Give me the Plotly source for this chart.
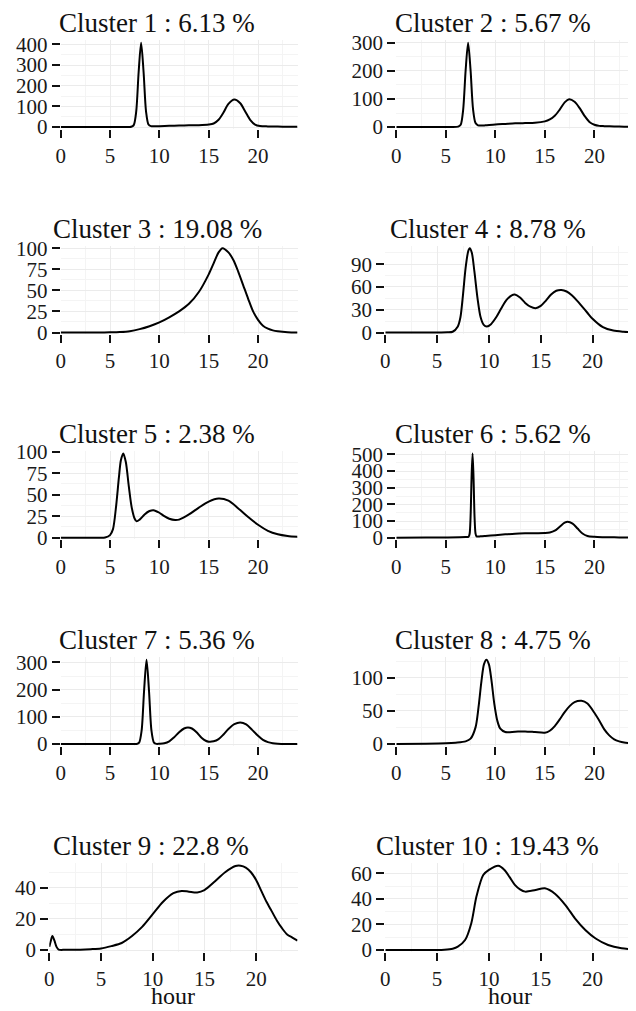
import plotly.graph_objects as go

# ---------------- data ----------------
cluster_ids = [1, 2, 3, 4, 5, 6, 7, 8, 9, 10]
cluster_pct = [6.13, 5.67, 19.08, 8.78, 2.38, 5.62, 5.36, 4.75, 22.8, 19.43]
x_tick_step = 5
y_tick_step = [100, 100, 25, 30, 25, 100, 100, 50, 20, 20]
y_tick_top = [400, 300, 100, 90, 100, 500, 300, 100, 40, 60]
x_label = "hour"

hours_1 = [0, 2, 4, 6, 6.8, 7.15, 7.4, 7.65, 7.9, 8.15, 8.4, 8.65, 8.9, 9.15, 9.5, 10, 11, 12, 13, 14,
           15, 15.5, 16, 16.5, 17, 17.6, 18.2, 18.7, 19.2, 19.7, 20.2, 21, 22, 23, 24]
dens_1 = [0, 0, 0, 0.1, 0.3, 1, 9, 73, 266, 408, 266, 75, 12, 4, 3.5, 4, 5.5, 7, 8, 9,
          12, 17, 35, 70, 112, 133, 115, 75, 35, 12, 5, 3, 2, 1, 1]

hours_2 = [0, 2, 4, 5.5, 6.25, 6.5, 6.75, 7.0, 7.25, 7.5, 7.75, 8.0, 8.25, 8.6, 9, 10, 11, 12, 13, 14,
           15, 15.5, 16, 16.5, 17, 17.45, 18, 18.5, 19, 19.5, 20, 20.5, 21, 22, 23, 24]
dens_2 = [0, 0, 0, 0.2, 1.5, 8, 61, 202, 301, 202, 63, 14, 6, 5, 6, 9, 11, 13, 14, 15,
          20, 27, 40, 62, 88, 99, 90, 68, 40, 18, 8, 4, 3, 2, 1, 0.5]

hours_3 = [0, 2, 4, 5, 6, 7, 8, 9, 10, 11, 12, 13, 14, 15, 15.5, 16, 16.4, 17, 17.5, 18,
           18.5, 19, 19.5, 20, 20.5, 21, 21.5, 22, 23, 24]
dens_3 = [0, 0, 0, 0.2, 0.6, 1.6, 4, 7.5, 12, 18, 25, 34, 48, 69, 82, 95, 100, 95, 86, 72,
          56, 40, 25, 15, 8, 4.5, 2.5, 1.5, 0.4, 0.1]

hours_4 = [0, 3, 5, 6, 6.5, 7, 7.25, 7.5, 7.75, 8.0, 8.15, 8.35, 8.6, 8.9, 9.2, 9.5, 9.8, 10.2, 10.7, 11.2,
           11.7, 12.2, 12.5, 13, 13.5, 14, 14.5, 15, 15.5, 16, 16.5, 17, 17.5, 18, 18.5, 19, 19.5, 20, 21, 22,
           23, 24]
dens_4 = [0, 0, 0, 0.3, 1, 8, 20, 50, 85, 107, 111, 105, 80, 45, 20, 10, 8, 11, 20, 32,
          43, 49, 50, 46, 39, 34, 32, 35, 42, 50, 55, 56, 54, 49, 42, 34, 26, 18, 7, 2.5,
          1, 0.3]

hours_5 = [0, 3, 4, 4.5, 5, 5.3, 5.6, 5.9, 6.1, 6.34, 6.6, 6.9, 7.2, 7.5, 7.7, 8, 8.5, 9, 9.4, 10,
           10.5, 11, 11.6, 12, 13, 14, 15, 16, 17, 18, 19, 20, 21, 22, 23, 24]
dens_5 = [0, 0, 0, 0.3, 3, 10, 35, 70, 90, 98, 88, 60, 35, 22, 19, 21, 27, 31, 32, 29,
          25, 22, 20.5, 21, 27, 35, 42, 45.5, 43, 34, 24, 15, 8, 4, 2, 1]

hours_6 = [0, 3, 5, 7, 7.3, 7.4, 7.5, 7.6, 7.7, 7.8, 7.9, 8.0, 8.1, 8.5, 9, 10, 11, 12, 13, 14,
           15, 15.5, 16, 16.5, 17, 17.3, 17.8, 18.3, 18.8, 19.3, 20, 21, 22, 23, 24]
dens_6 = [0, 0.5, 1.5, 4, 6, 22, 126, 358, 506, 358, 126, 25, 8, 8, 10, 15, 20, 24, 26, 27,
          28, 31, 42, 66, 90, 96, 85, 55, 25, 10, 5, 3, 2, 1, 1]

hours_7 = [0, 4, 7, 7.7, 7.95, 8.2, 8.45, 8.7, 8.95, 9.2, 9.45, 9.7, 10, 10.5, 11, 11.5, 12, 12.5, 12.9, 13.3,
           13.8, 14.3, 14.7, 15, 15.5, 16, 16.5, 17, 17.6, 18.2, 18.8, 19.4, 20, 20.5, 21, 21.5, 22, 23, 24]
dens_7 = [0, 0, 0, 0.2, 5, 49, 195, 310, 195, 49, 5, 0.5, 1, 3, 10, 25, 43, 57, 61, 57,
          42, 22, 12, 8.6, 10, 18, 35, 55, 73, 79, 72, 52, 30, 15, 7, 3, 1.2, 0.3, 0]

hours_8 = [0, 3, 5, 6, 7, 7.5, 8, 8.3, 8.6, 8.85, 9.1, 9.35, 9.6, 9.9, 10.2, 10.5, 11, 12, 13, 14,
           15, 15.5, 16, 16.5, 17, 17.5, 18, 18.7, 19.3, 20, 20.5, 21, 21.5, 22, 22.5, 23, 24]
dens_8 = [0, 0.3, 1, 2, 4, 8, 25, 55, 95, 120, 127, 120, 97, 60, 35, 23, 18, 18.5, 19, 18,
          17, 20, 27, 37, 48, 57, 63, 65, 61, 47, 35, 22, 13, 7, 4, 2.3, 1]

hours_9 = [0, 0.15, 0.3, 0.5, 0.7, 0.9, 1.5, 3, 4, 5, 6, 7, 8, 9, 10, 11, 12, 12.8, 13.5, 14.3,
           15, 16, 17, 18, 18.5, 19, 19.5, 20, 20.5, 21, 21.5, 22, 22.5, 23, 23.5, 24]
dens_9 = [2, 6, 9, 6, 2, 0.3, 0.1, 0.2, 0.5, 1, 2.5, 4.5, 9, 15, 23, 31, 36.5, 38, 37.5, 37,
          38.5, 44, 50, 54, 54.2, 53, 50, 45, 38, 31, 25, 19, 14, 10, 8, 6]

hours_10 = [0, 3, 5, 5.7, 6.5, 7, 7.7, 8.3, 8.8, 9.45, 10, 10.9, 11.5, 12, 12.5, 13, 13.5, 14.5, 15.4, 16.4,
            17.4, 18.3, 19.3, 20.3, 21.5, 22.8, 24]
dens_10 = [0, 0, 0, 0.2, 1, 2.6, 7.8, 21, 42, 58.7, 62.7, 66, 62.7, 57, 51, 47.5, 45.7, 47, 48.3, 43.9,
           35, 24.8, 15.7, 9, 3.9, 1.3, 0.5]

hours_all = [hours_1, hours_2, hours_3, hours_4, hours_5, hours_6, hours_7, hours_8, hours_9, hours_10]
dens_all = [dens_1, dens_2, dens_3, dens_4, dens_5, dens_6, dens_7, dens_8, dens_9, dens_10]

# ---------------- layout geometry (page pixels) ----------------
OFF = 8                      # default page body margin around the figure
PW, PH = 636, 1011           # browser window
W, H = PW - OFF, PH - OFF    # figure size so it fits exactly
ROW_BASE = [127, 332.5, 537.7, 744, 950]
RIGHT = [297.5, 634]
LEFT = [{3: 60.7, 2: 49.3}, {3: 396.3, 2: 385.3}]
PEAK_PX = 84.3
FONT = "Liberation Serif"
LO, HI = 0.02, 1.03


def fx(px):
    return (px - OFF) / W


def fy(py):
    return 1 - (py - OFF) / H


fig = go.Figure()
layout = dict(
    width=W, height=H, autosize=False,
    margin=dict(l=0, r=0, t=0, b=0, pad=0),
    paper_bgcolor="white", plot_bgcolor="white",
    showlegend=False,
    font=dict(family=FONT, color="#1a1a1a"),
    annotations=[],
)

for i, cid in enumerate(cluster_ids):
    r, c = divmod(i, 2)
    n = i + 1
    xs, ys = hours_all[i], dens_all[i]
    ymax = max(ys)
    base = ROW_BASE[r]
    bottom_px = base + LO * PEAK_PX
    top_px = bottom_px - (LO + HI) * PEAK_PX
    left = LEFT[c][len(str(y_tick_top[i]))]
    right = RIGHT[c]

    sfx = "" if n == 1 else str(n)
    fig.add_trace(go.Scatter(
        x=xs, y=ys, mode="lines",
        line=dict(color="black", width=2, shape="spline", smoothing=0.8),
        xaxis="x" + sfx, yaxis="y" + sfx, hoverinfo="skip",
    ))

    grid_major = "#ebebeb"
    grid_minor = "#f4f4f4"
    layout["xaxis" + sfx] = dict(
        domain=[fx(left), fx(right)], anchor="y" + sfx,
        range=[0, 24], tick0=0, dtick=x_tick_step,
        ticks="outside", ticklen=8, tickwidth=1.6, tickcolor="#111",
        showgrid=True, gridcolor=grid_major, gridwidth=1,
        minor=dict(tick0=0, dtick=x_tick_step / 2, showgrid=True,
                   gridcolor=grid_minor, gridwidth=0.8, ticks=""),
        zeroline=False, showline=False, automargin=False,
        tickfont=dict(family=FONT, size=21, color="#1a1a1a"),
        fixedrange=True,
    )
    layout["yaxis" + sfx] = dict(
        domain=[fy(bottom_px), fy(top_px)], anchor="x" + sfx,
        range=[-LO * ymax, HI * ymax], tick0=0, dtick=y_tick_step[i],
        ticks="outside", ticklen=8, tickwidth=1.6, tickcolor="#111",
        showgrid=True, gridcolor=grid_major, gridwidth=1,
        minor=dict(tick0=0, dtick=y_tick_step[i] / 2, showgrid=True,
                   gridcolor=grid_minor, gridwidth=0.8, ticks=""),
        zeroline=False, showline=False, automargin=False,
        tickfont=dict(family=FONT, size=21, color="#1a1a1a"),
        fixedrange=True,
    )

    layout["annotations"].append(dict(
        text=f"Cluster {cid} : {cluster_pct[i]} %",
        xref="paper", yref="paper",
        x=fx((left + right) / 2 - 22), y=fy(base - 104),
        xanchor="center", yanchor="middle", showarrow=False,
        font=dict(family=FONT, size=27, color="#111"),
    ))
    if r == 4:
        layout["annotations"].append(dict(
            text=x_label, xref="paper", yref="paper",
            x=fx((left + right) / 2), y=fy(996),
            xanchor="center", yanchor="middle", showarrow=False,
            font=dict(family=FONT, size=24, color="#111"),
        ))

fig.update_layout(**layout)
fig.write_html("out.html")
